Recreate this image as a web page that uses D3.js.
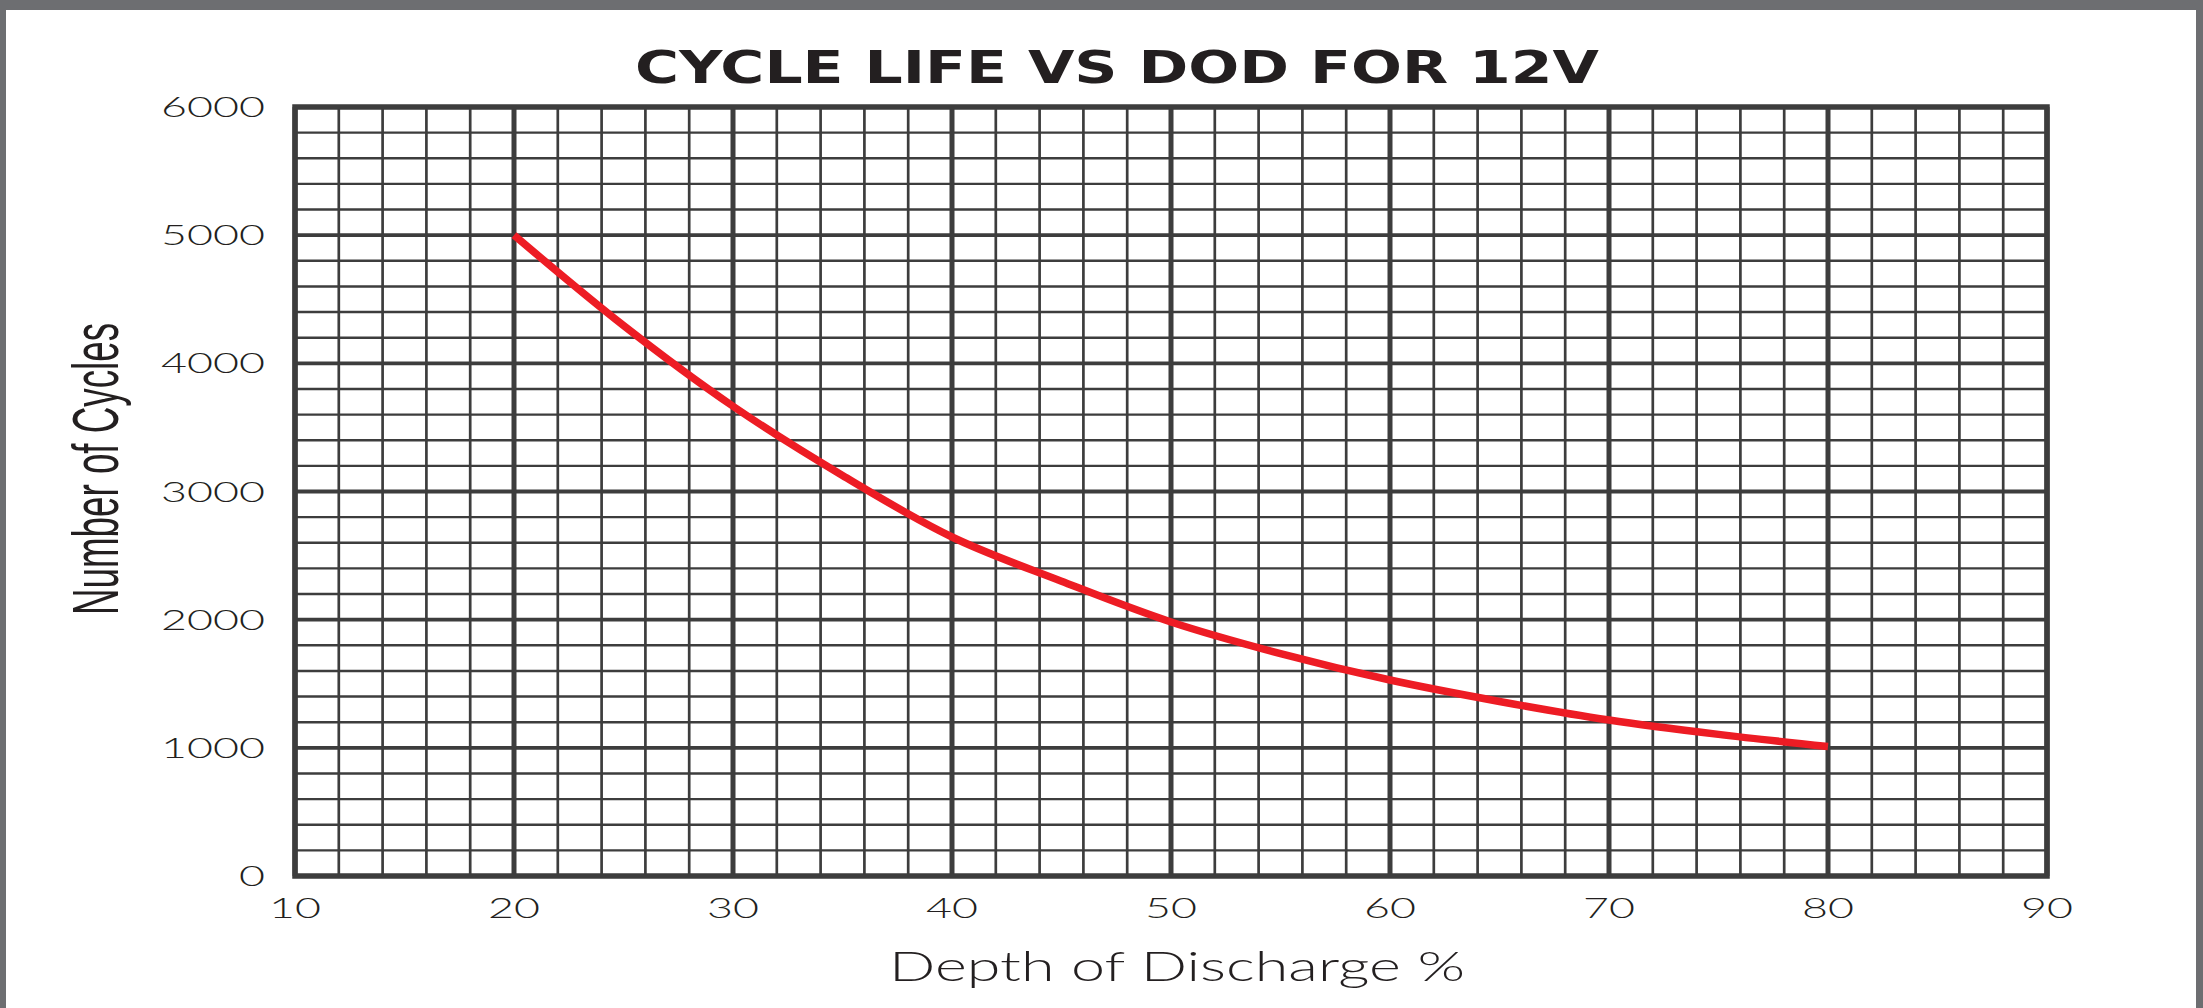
<!DOCTYPE html>
<html>
<head>
<meta charset="utf-8">
<script src="https://cdn.jsdelivr.net/npm/d3@7"></script>
<style>
  html, body { margin: 0; padding: 0; background: #ffffff; }
  svg { display: block; }
</style>
</head>
<body>
<svg id="chart" width="2203" height="1008"></svg>
<script>
// ---- data ----
const dod    = [20,   25,   30,   35,   40,   45,   50,   55,   60,   65,   70,   75,   80];
const cycles = [5000, 4295, 3665, 3125, 2645, 2300, 1982, 1735, 1529, 1362, 1217, 1105, 1010];
const xTicks = [10, 20, 30, 40, 50, 60, 70, 80, 90];
const yTicks = [0, 1000, 2000, 3000, 4000, 5000, 6000];
const titleText = "CYCLE LIFE VS DOD FOR 12V";
const xTitle = "Depth of Discharge %";
const yTitle = "Number of Cycles";

// ---- layout ----
const W = 2203, H = 1008;
const pL = 295, pR = 2047, pT = 107, pB = 876;
const gridColor = "#3d3d3d";
const textColor = "#231f20";
const labelFont = "Lato, 'DejaVu Sans', sans-serif";

const svg = d3.select("#chart");

// gray outer frame (top, left, right)
svg.append("rect").attr("x", 0).attr("y", 0).attr("width", W).attr("height", H).attr("fill", "#6d6e71");
svg.append("rect").attr("x", 6).attr("y", 10).attr("width", W - 13).attr("height", H - 10).attr("fill", "#ffffff");

const x = d3.scaleLinear().domain([10, 90]).range([pL, pR]);
const y = d3.scaleLinear().domain([0, 6000]).range([pB, pT]);

const xMinor = d3.range(10, 90.01, 2).filter(v => v % 10 !== 0);
const yMinor = d3.range(0, 6000.01, 200).filter(v => v % 1000 !== 0);

const grid = svg.append("g");
grid.selectAll("line.hmin").data(yMinor).join("line")
  .attr("x1", pL).attr("x2", pR)
  .attr("y1", d => y(d)).attr("y2", d => y(d))
  .attr("stroke", gridColor).attr("stroke-width", 2.4);
grid.selectAll("line.vmin").data(xMinor).join("line")
  .attr("y1", pT).attr("y2", pB)
  .attr("x1", d => x(d)).attr("x2", d => x(d))
  .attr("stroke", gridColor).attr("stroke-width", 2.7);
grid.selectAll("line.hmaj").data(yTicks).join("line")
  .attr("x1", pL).attr("x2", pR)
  .attr("y1", d => y(d)).attr("y2", d => y(d))
  .attr("stroke", gridColor).attr("stroke-width", 3.8);
grid.selectAll("line.vmaj").data(xTicks).join("line")
  .attr("y1", pT).attr("y2", pB)
  .attr("x1", d => x(d)).attr("x2", d => x(d))
  .attr("stroke", gridColor).attr("stroke-width", 5);
grid.append("rect")
  .attr("x", pL).attr("y", pT).attr("width", pR - pL).attr("height", pB - pT)
  .attr("fill", "none").attr("stroke", gridColor).attr("stroke-width", 5.5);

// curve
const line = d3.line().x((d, i) => x(dod[i])).y(d => y(d)).curve(d3.curveCatmullRom.alpha(0.5));
svg.append("path")
  .attr("d", line(cycles))
  .attr("fill", "none")
  .attr("stroke", "#ed1c24")
  .attr("stroke-width", 7.5)
  .attr("stroke-linecap", "butt");

// tick labels
const sx = 1.6;
const yl = svg.append("g");
yTicks.forEach(v => {
  yl.append("g").attr("transform", `translate(265,${y(v) + 10}) scale(${sx},1)`)
    .append("text")
    .attr("text-anchor", "end")
    .attr("font-family", labelFont)
    .attr("font-weight", 300)
    .attr("font-size", 28)
    .attr("fill", textColor)
    .text(v);
});
const xl = svg.append("g");
xTicks.forEach(v => {
  xl.append("g").attr("transform", `translate(${x(v)},918) scale(${sx},1)`)
    .append("text")
    .attr("text-anchor", "middle")
    .attr("font-family", labelFont)
    .attr("font-weight", 300)
    .attr("font-size", 28)
    .attr("fill", textColor)
    .text(v);
});

// title
svg.append("text")
  .attr("x", 635).attr("y", 83)
  .attr("font-family", "DejaVu Sans, sans-serif")
  .attr("font-weight", "bold")
  .attr("font-size", 45)
  .attr("textLength", 964)
  .attr("lengthAdjust", "spacingAndGlyphs")
  .attr("fill", textColor)
  .text(titleText);

// x title
svg.append("text")
  .attr("x", 889).attr("y", 981)
  .attr("font-family", labelFont)
  .attr("font-weight", 300)
  .attr("font-size", 42)
  .attr("textLength", 576)
  .attr("lengthAdjust", "spacingAndGlyphs")
  .attr("fill", textColor)
  .text(xTitle);

// y title
svg.append("text")
  .attr("transform", "translate(118,615) rotate(-90)")
  .attr("x", 0).attr("y", 0)
  .attr("font-family", "Liberation Sans, Arial, sans-serif")
  .attr("font-size", 64)
  .attr("textLength", 292)
  .attr("lengthAdjust", "spacingAndGlyphs")
  .attr("fill", textColor)
  .text(yTitle);
</script>
</body>
</html>
